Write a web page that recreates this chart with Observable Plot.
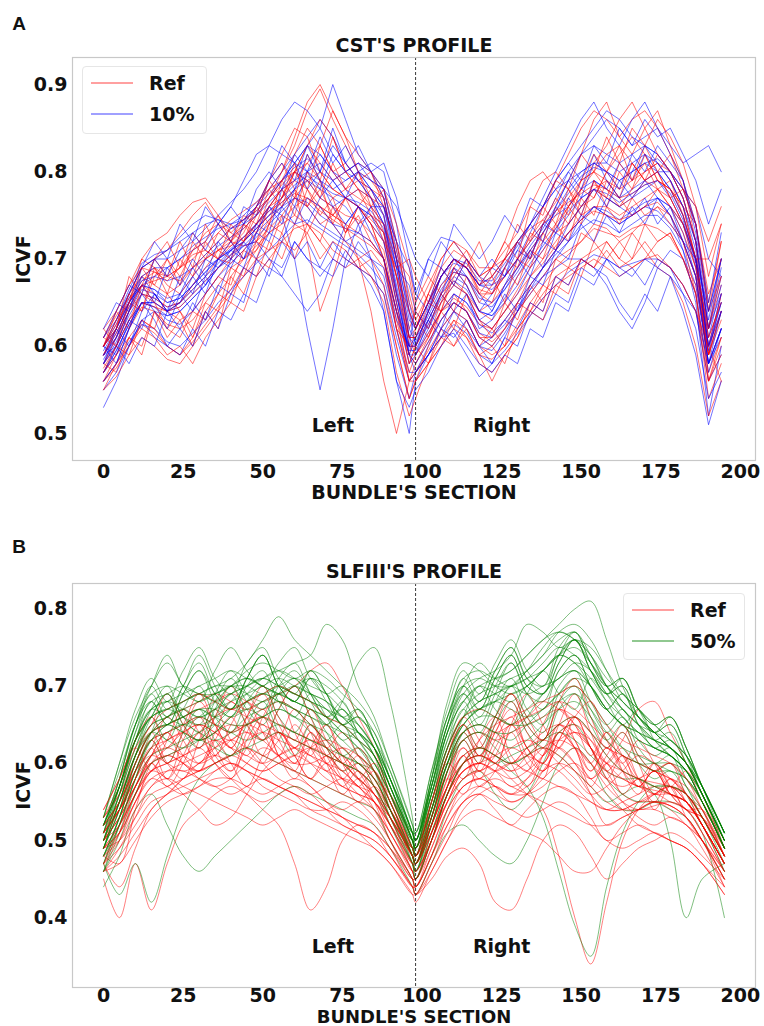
<!DOCTYPE html>
<html><head><meta charset="utf-8">
<script src="https://cdn.jsdelivr.net/npm/d3@7"></script>
<script src="https://cdn.jsdelivr.net/npm/@observablehq/plot@0.6"></script>
<style>
body{margin:0;background:#fff;}
#wrap{position:relative;width:764px;height:1026px;overflow:hidden;background:#fff;font-family:"DejaVu Sans",sans-serif;}
.t{position:absolute;font-weight:bold;color:#111;white-space:nowrap;text-align:center;}
.panel{position:absolute;left:0;}
.leg{position:absolute;border:1px solid #e6e6e6;border-radius:4px;background:#fff;}
.leg .row{position:absolute;left:0;height:20px;display:flex;align-items:center;}
.leg .sw{display:inline-block;width:42px;height:2px;margin-left:8px;}
.leg .lab{font-weight:bold;font-size:19px;margin-left:16px;color:#111;}
</style></head>
<body><div id="wrap"></div>
<script>
// ---- x positions (bundle sections) of sampled points ----
const sectionsA = [0,4,8,12,16,20,24,28,32,36,40,44,48,52,56,60,64,68,72,76,80,84,88,92,96,
  98,102,106,110,114,118,122,126,130,134,138,142,146,150,154,158,162,166,170,174,178,182,186,190,194];
const sectionsB = [0,5,10,15,20,25,30,35,40,45,50,55,60,65,70,75,80,85,90,97,
  98,103,108,113,118,123,128,133,138,143,148,153,158,163,168,173,178,183,188,195];
const xTicks = [0,25,50,75,100,125,150,175,200];
const yTicksA = [0.5,0.6,0.7,0.8,0.9];
const yTicksB = [0.4,0.5,0.6,0.7,0.8];
const hemiLabels = ["Left","Right"];
const hemiLabelX = [72,125];
const midline = [98];

// ---- CST profiles, ICVF x 1000 (Ref subjects) ----
const cstRef = [
[600,620,650,680,690,680,690,710,730,740,730,745,760,780,800,830,870,895,860,830,800,790,770,700,610, 620,650,680,700,690,660,660,680,700,725,745,765,790,820,860,880,840,820,850,870,830,790,720,620,700],
[560,575,600,625,615,600,590,610,640,660,680,700,720,745,760,780,760,740,750,770,760,740,700,620,560, 570,590,610,630,620,590,585,600,625,650,670,690,705,720,740,735,720,730,745,760,750,720,680,580,620],
[590,620,660,690,700,710,730,750,765,740,720,715,720,735,750,770,790,800,780,770,760,745,730,650,580, 600,640,680,700,690,670,680,700,720,735,745,730,740,760,780,770,760,770,790,800,770,740,700,600,640],
[580,600,630,660,650,640,650,665,680,700,715,730,760,790,810,780,720,640,680,730,760,780,770,700,610, 590,610,640,660,640,610,600,620,650,680,700,720,740,760,780,790,770,750,760,780,790,760,700,590,660],
[610,635,655,670,660,640,630,640,660,680,700,720,735,750,770,800,830,810,790,800,810,800,780,720,640, 620,660,690,710,700,680,690,710,730,760,790,800,780,760,770,800,820,840,820,790,780,760,740,650,720],
[550,565,590,610,600,585,580,600,620,640,660,680,700,710,720,735,740,730,710,700,690,680,660,600,540, 560,580,600,620,610,580,570,590,610,635,655,670,680,690,700,690,680,690,700,705,690,670,640,560,600],
[590,615,645,670,675,680,690,705,710,700,695,710,730,760,780,790,810,830,800,780,770,760,740,680,600, 600,630,660,675,660,630,620,640,665,690,710,735,760,790,800,780,760,780,800,810,790,750,700,600,660],
[600,630,660,680,670,660,670,690,700,710,715,725,740,760,770,790,780,760,750,740,700,640,560,500,560, 580,610,640,650,640,610,610,630,650,670,690,710,730,750,760,760,750,760,770,780,770,740,700,610,650],
[580,610,650,700,720,730,750,765,770,750,720,700,710,740,770,800,830,860,840,800,780,770,760,720,660, 630,660,700,720,700,680,690,720,760,790,800,780,760,780,810,830,860,880,850,820,800,780,740,640,680],
[570,590,620,645,640,625,620,630,650,670,690,700,715,730,745,760,770,760,750,740,730,720,700,640,590, 580,605,630,650,640,615,605,620,640,660,680,700,710,720,735,730,725,735,740,735,725,700,670,590,640],
[620,640,670,700,690,670,660,680,700,710,720,735,750,770,800,840,880,900,870,840,820,800,770,700,620, 640,670,700,720,710,690,690,700,720,740,760,790,820,850,870,860,840,860,870,850,820,790,740,640,720],
[560,580,610,630,620,600,590,605,625,645,665,690,710,730,740,750,740,720,700,690,700,710,690,620,560, 570,595,620,640,630,600,590,600,620,640,660,680,690,700,710,720,700,690,700,720,730,700,660,570,610],
[600,625,650,675,685,680,675,690,705,720,735,745,755,770,785,800,810,790,770,780,790,780,750,680,610, 610,640,670,685,680,660,650,670,690,710,730,750,770,790,800,790,780,790,800,810,800,770,720,620,670],
[590,610,640,660,655,645,650,670,690,710,725,740,760,790,820,850,840,800,780,770,760,740,720,650,580, 600,625,650,670,660,640,630,650,680,700,720,740,760,780,800,820,830,810,790,780,760,730,690,590,640],
[575,600,630,650,645,640,645,660,675,690,705,720,740,755,765,775,770,755,745,735,725,715,700,630,570, 590,615,640,655,645,625,620,640,660,680,695,715,730,745,755,750,745,750,760,765,750,720,680,590,630],
[610,640,670,690,685,675,690,700,715,730,745,755,765,780,790,800,790,770,760,750,745,730,710,640,590, 620,650,680,700,690,665,660,680,700,720,740,755,765,775,785,780,770,775,785,790,780,750,700,610,650],
[620,600,650,640,690,660,700,680,720,700,740,720,760,740,790,770,820,790,840,800,780,760,720,690,700, 680,650,690,670,700,660,680,650,700,690,730,710,760,740,790,760,800,780,820,790,780,760,700,700,740],
[560,590,610,600,640,620,610,640,630,660,650,690,680,720,700,740,730,760,740,720,700,680,650,570,520, 540,580,600,630,610,590,560,590,610,650,640,680,670,700,690,720,700,730,710,690,680,650,600,520,560],
[600,640,620,670,700,680,720,690,740,710,700,740,720,760,780,750,800,770,810,780,800,760,780,740,690, 650,680,660,700,690,720,680,700,740,720,760,740,780,750,790,770,810,790,830,800,820,780,760,720,760],
[580,570,610,590,640,610,630,600,640,620,680,660,700,690,730,700,740,720,760,730,750,720,700,620,600, 600,580,620,600,630,600,620,600,650,640,670,660,690,680,720,700,720,700,740,720,730,700,660,560,590],
[590,620,660,640,680,700,670,720,700,730,720,750,740,780,760,800,780,830,800,810,790,800,760,710,650, 630,610,650,690,670,640,650,690,670,710,700,740,720,770,750,790,770,810,790,820,800,770,720,560,610],
[610,600,640,670,650,620,640,610,650,640,690,680,720,710,750,740,780,750,770,730,760,740,700,640,560, 560,600,640,620,660,630,610,650,630,670,650,700,690,730,720,760,740,770,750,760,740,720,660,540,580],
[570,600,590,630,620,660,640,620,660,680,670,710,700,740,730,770,760,780,750,770,740,750,740,700,680, 640,620,660,640,680,650,670,700,690,730,720,760,740,780,770,800,780,810,790,800,770,780,740,660,700],
[600,620,680,660,700,720,690,730,710,700,720,740,730,770,790,820,850,830,870,840,800,770,730,660,610, 610,650,640,680,700,670,690,720,700,760,750,790,780,820,800,840,810,850,830,860,840,810,760,680,740],
[550,580,600,620,610,590,600,580,610,630,650,640,680,700,720,710,730,700,720,710,690,700,670,600,540, 560,580,610,600,620,590,600,580,620,640,630,670,660,700,690,710,690,700,720,700,690,670,640,600,560],
[600,630,650,690,670,700,680,710,720,750,730,720,750,790,770,810,760,790,740,770,780,750,730,680,640, 620,660,640,690,710,680,660,690,720,700,740,770,750,790,820,800,830,790,810,780,760,740,690,620,680]
];
// ---- CST profiles, ICVF x 1000 (10% subjects) ----
const cst10 = [
[570,590,620,650,650,640,650,670,690,700,710,720,740,760,750,700,620,550,620,700,740,760,740,680,600, 590,620,650,670,660,630,620,640,660,690,710,730,750,770,780,770,760,770,780,790,770,740,690,590,640],
[580,610,640,670,680,690,700,710,720,740,760,790,820,830,820,810,800,790,780,790,800,790,780,720,640, 600,640,680,700,690,670,680,700,720,740,760,780,800,820,830,820,810,820,830,820,800,770,720,620,690],
[530,560,600,630,640,635,640,655,670,690,700,715,730,745,760,780,800,820,800,780,760,740,720,660,590, 570,600,630,650,640,610,600,620,640,660,680,700,720,740,760,750,740,750,760,770,760,730,680,580,620],
[600,620,650,670,665,655,660,680,700,715,725,735,750,770,790,810,830,850,820,800,790,780,760,690,610, 610,640,670,690,680,650,645,665,690,715,735,760,790,820,840,860,850,830,840,850,830,810,820,830,800],
[590,615,645,670,665,650,655,670,685,700,710,725,740,760,780,800,790,770,760,770,780,770,740,670,600, 650,700,725,720,700,680,670,680,700,720,740,750,760,780,790,780,770,780,790,800,780,750,700,600,650],
[570,595,625,650,645,630,625,640,660,680,695,710,725,740,755,770,760,740,730,720,710,700,680,620,570, 570,590,610,615,590,565,580,610,640,670,690,710,730,745,760,750,740,750,760,755,740,720,680,580,610],
[590,620,655,680,690,690,700,715,725,735,740,750,765,780,800,820,840,860,840,810,790,770,750,690,610, 600,630,660,680,670,640,635,655,680,705,730,755,780,800,810,800,790,800,810,800,780,750,700,600,660],
[580,605,635,660,655,645,650,665,680,695,710,720,735,750,765,780,790,780,770,760,740,700,640,560,500, 560,590,620,640,630,600,595,615,640,665,690,710,730,745,760,755,745,755,765,770,750,710,650,520,600],
[600,625,660,690,700,710,720,730,740,745,740,745,755,770,790,810,830,820,800,790,800,810,800,740,650, 620,650,680,695,690,670,665,680,700,730,760,790,810,830,850,870,860,840,830,820,800,780,740,640,700],
[560,580,605,625,620,605,600,615,630,650,665,680,695,710,725,740,745,735,725,715,705,690,670,610,560, 570,590,610,625,615,590,580,595,615,635,655,670,685,695,705,700,690,695,700,700,690,670,640,560,590],
[610,630,660,690,700,700,710,720,735,750,765,780,800,830,860,880,870,850,900,860,820,800,780,710,630, 620,650,680,700,690,670,670,690,710,740,770,800,830,860,880,850,830,860,880,850,820,790,730,630,700],
[580,600,630,650,650,640,645,660,675,690,705,720,735,750,760,770,765,750,740,735,730,720,700,640,580, 590,615,640,660,650,625,615,630,650,670,690,705,720,735,745,740,730,740,750,750,735,710,670,580,620],
[595,620,650,675,680,675,680,690,705,720,735,745,760,775,790,805,815,800,790,800,810,800,770,700,620, 605,635,665,685,680,655,650,665,685,710,730,755,775,795,805,800,790,800,810,815,800,770,720,620,680],
[570,595,625,650,645,635,640,655,670,690,705,715,720,700,680,660,640,660,700,740,760,750,720,650,590, 580,605,630,650,640,615,610,625,645,665,680,690,700,700,690,670,640,620,650,690,710,700,660,570,620],
[600,630,665,695,705,710,725,740,750,745,735,740,750,765,780,790,800,810,790,770,760,750,730,660,590, 610,645,680,700,695,675,675,695,715,740,760,780,790,800,810,810,800,810,820,810,790,760,710,610,670],
[585,610,640,665,660,650,655,670,685,700,712,725,740,755,770,785,795,785,775,770,765,755,735,665,595, 595,625,655,675,665,640,635,650,670,695,715,735,755,770,780,775,765,775,785,790,775,745,695,595,650],
[600,590,630,620,660,640,680,660,700,690,710,700,740,730,780,760,800,780,820,800,810,790,780,760,720, 700,680,720,700,690,670,690,680,710,700,740,730,770,750,790,780,810,790,820,800,800,780,760,700,680],
[560,580,620,650,630,600,590,620,600,640,630,660,650,690,680,720,700,690,720,700,690,670,640,560,530, 550,570,600,620,600,580,570,590,580,620,610,650,640,680,670,700,690,680,700,690,680,640,590,510,560],
[620,650,640,690,720,700,740,720,760,740,720,760,750,790,810,790,830,800,850,810,830,800,810,770,700, 660,700,690,740,720,700,720,750,730,770,760,790,810,790,830,810,850,830,860,840,850,820,790,740,780],
[570,600,580,610,600,640,620,650,630,670,660,690,680,700,690,720,700,680,700,690,720,700,690,630,600, 610,630,610,640,620,600,610,630,620,650,640,680,670,700,690,680,650,630,660,640,680,660,640,580,620],
[590,610,650,670,650,690,670,700,680,720,700,740,760,790,830,810,780,800,830,810,790,770,740,690,670, 640,620,660,690,670,640,660,690,720,700,740,770,800,780,820,790,770,800,830,810,790,760,720,620,660],
[580,620,600,640,660,640,650,680,660,700,690,720,700,730,720,760,740,770,790,770,800,780,750,660,590, 590,630,660,640,660,620,630,660,640,680,670,710,700,740,720,750,730,760,740,770,760,720,700,640,700],
[600,580,620,660,640,620,660,640,680,660,700,690,730,720,760,740,770,760,740,720,730,760,760,720,690, 660,640,680,700,680,660,640,670,690,710,690,730,720,750,740,770,760,750,770,740,760,740,700,600,640],
[550,570,600,630,610,600,620,600,640,620,660,650,700,680,720,700,720,690,680,710,690,680,660,590,540, 570,590,620,610,630,600,580,610,600,640,630,660,650,690,680,700,680,690,670,700,690,660,620,540,570],
[610,640,670,660,700,680,710,730,710,740,760,740,780,800,780,820,800,840,810,830,800,780,760,700,640, 620,650,690,670,700,680,700,680,720,740,720,760,790,770,810,800,780,820,800,830,810,790,740,650,730],
[590,600,640,680,660,640,660,690,670,700,720,700,730,760,740,780,820,790,760,740,760,730,700,640,600, 600,640,620,660,650,630,640,670,700,680,720,710,740,760,780,760,790,770,790,770,750,720,680,580,640]
];
// ---- SLFIII profiles, ICVF x 1000 (Ref subjects) ----
const slfRef = [
[480,470,540,600,620,640,650,640,630,650,660,640,630,620,610,600,590,570,530,470, 460,500,560,600,620,610,600,620,640,650,640,620,600,590,580,575,570,560,530,480],
[450,400,470,410,470,520,540,560,570,560,550,560,570,560,540,520,510,500,480,440, 430,470,520,550,560,540,520,540,560,570,560,530,500,510,520,510,500,490,470,440],
[500,520,560,590,600,610,620,600,580,560,540,520,470,410,440,500,520,510,490,450, 450,500,560,590,600,590,570,580,600,620,600,560,520,530,540,550,540,520,500,460],
[520,540,580,620,630,640,630,640,650,640,630,640,620,610,600,590,570,550,520,470, 470,520,570,600,610,600,580,560,540,480,400,340,420,500,540,560,570,560,530,480],
[490,510,550,580,590,590,580,570,560,570,580,570,560,550,540,530,520,510,490,450, 430,450,480,490,470,420,410,450,500,520,510,480,450,470,490,500,510,500,480,450],
[510,540,590,630,640,650,660,650,640,650,660,650,640,630,610,600,580,560,530,480, 470,520,580,610,620,610,600,620,630,620,600,580,600,630,670,680,640,600,560,490],
[520,550,600,640,660,670,680,690,680,670,680,690,700,720,730,700,660,620,560,490, 480,530,590,630,640,630,640,650,660,670,660,640,620,610,600,590,580,570,540,490],
[470,520,560,600,570,600,640,600,580,630,660,610,590,640,600,560,580,550,500,450, 450,510,560,610,570,590,640,600,580,640,620,570,600,560,580,540,570,530,500,460],
[530,560,600,640,650,660,670,680,690,680,670,680,670,650,630,610,590,570,540,490, 490,540,600,640,650,640,650,660,670,680,670,650,630,610,600,590,580,560,530,480],
[460,480,510,540,560,570,580,590,600,590,580,570,560,550,540,530,510,490,470,430, 420,460,500,540,560,570,560,560,570,590,600,580,560,540,520,510,500,490,470,430],
[500,530,570,610,620,610,600,610,630,640,630,610,600,620,630,620,600,580,540,480, 470,510,560,600,610,600,590,610,630,650,660,640,610,590,580,570,560,550,520,470],
[480,510,560,590,580,560,540,520,530,560,590,610,620,610,590,570,560,550,510,460, 450,490,540,570,580,570,560,580,610,640,650,630,590,560,550,560,570,550,520,460],
[520,550,600,640,600,580,630,670,630,610,660,690,640,610,650,600,570,590,540,490, 490,540,600,580,630,660,610,590,650,680,630,600,640,590,560,600,570,540,530,490],
[490,500,530,560,570,580,590,600,610,620,600,580,570,560,570,580,570,540,500,450, 440,480,530,560,570,560,550,560,580,600,620,600,570,550,540,545,550,540,510,460],
[510,540,590,620,660,630,600,640,680,650,610,630,670,640,600,620,590,560,540,480, 470,520,580,630,600,640,670,620,600,650,690,640,600,620,580,550,580,560,520,470],
[470,440,490,540,560,580,590,600,610,600,590,600,610,600,590,580,560,540,510,460, 460,500,550,590,600,590,600,610,620,610,590,560,540,540,550,560,550,540,510,460],
[500,530,570,610,640,600,590,630,600,570,610,640,610,580,610,580,550,570,540,490, 480,530,590,620,590,610,650,620,590,630,660,620,580,610,570,590,560,540,540,490],
[530,570,620,650,690,650,620,660,700,660,630,670,700,660,620,640,610,580,560,500, 490,550,610,660,630,600,650,690,650,620,660,680,630,600,630,600,570,590,550,500],
[460,490,530,570,580,570,560,550,540,530,520,530,540,530,520,510,500,490,470,430, 430,470,510,550,560,550,540,530,540,550,540,520,500,490,500,510,500,490,470,430],
[510,540,580,610,630,640,650,640,620,600,590,600,610,620,610,590,570,550,520,480, 470,510,550,580,590,600,620,630,620,600,580,560,570,590,610,600,580,560,530,480],
[490,520,570,600,580,630,660,620,590,620,650,610,580,620,650,610,580,600,550,490, 480,530,580,560,600,640,600,570,610,650,620,580,610,640,600,560,580,550,520,470],
[540,580,620,590,630,670,640,610,650,680,640,610,650,620,590,610,580,550,530,480, 470,540,610,650,610,640,680,640,610,650,630,590,620,600,570,590,560,540,530,480],
[470,490,520,550,560,580,600,610,600,590,580,570,560,540,530,520,510,500,480,440, 440,480,520,550,570,580,570,560,550,540,530,520,520,530,540,550,545,530,500,450],
[500,530,570,600,610,620,640,660,670,660,650,640,630,620,600,580,570,560,530,480, 470,510,560,600,630,650,660,670,680,670,650,620,590,580,570,565,560,550,520,470],
[470,510,560,590,610,600,590,600,610,630,640,630,620,600,580,570,560,550,520,460, 450,500,560,590,600,610,620,610,600,590,570,550,540,550,560,570,560,550,520,470],
[530,560,610,650,670,680,690,680,670,680,690,700,690,680,660,650,630,610,560,490, 480,550,620,660,670,660,650,660,680,690,700,680,650,630,620,610,600,580,550,490],
[490,520,560,600,610,600,580,570,580,600,620,610,590,570,550,540,550,540,510,460, 450,500,550,580,590,570,550,560,590,620,640,620,580,550,530,520,530,520,500,450],
[510,550,590,630,600,640,680,650,620,660,700,660,630,670,630,600,620,590,550,480, 470,530,590,640,610,650,690,660,630,680,710,660,620,650,610,590,600,560,540,480],
[460,470,500,530,550,560,570,580,580,570,560,570,580,570,550,530,520,510,480,440, 430,460,500,530,540,530,520,510,500,480,460,460,490,520,540,550,545,530,500,440],
[500,540,580,620,580,610,650,610,590,640,670,630,600,640,610,580,600,570,530,470, 470,520,570,620,590,630,660,620,600,640,620,590,620,590,570,590,560,550,520,470],
[520,550,590,610,600,590,600,620,640,650,640,620,600,600,610,620,610,590,550,490, 480,520,570,600,610,600,590,600,620,630,620,600,580,570,580,590,600,580,540,480],
[480,500,540,570,590,600,610,620,630,620,610,600,590,580,570,560,550,530,500,450, 440,480,530,570,580,590,600,590,580,570,560,550,540,540,550,550,545,530,500,450],
[540,580,630,660,620,650,690,650,620,660,690,650,620,650,620,590,610,580,540,480, 480,550,610,650,620,660,690,650,630,670,650,610,640,610,580,600,570,560,530,480],
[490,510,550,590,600,610,620,630,620,610,600,610,620,630,620,600,580,560,520,470, 460,500,550,590,600,590,580,590,610,630,640,630,600,580,570,560,560,550,520,470],
[510,540,570,610,640,610,590,630,660,620,600,640,610,580,600,570,590,560,530,480, 470,520,570,610,580,620,650,610,590,630,660,620,590,610,580,560,570,550,520,470],
[470,500,550,580,570,560,570,590,600,590,570,560,550,540,540,550,540,520,490,440, 440,490,540,570,580,570,560,570,590,600,590,570,550,540,540,540,530,520,490,440]
];
// ---- SLFIII profiles, ICVF x 1000 (50% subjects) ----
const slf50 = [
[500,550,610,650,660,680,690,700,710,730,760,790,760,740,720,700,680,650,600,520, 500,560,630,670,690,700,710,720,740,760,770,740,700,680,660,640,620,600,560,500],
[510,560,620,660,670,680,690,680,690,700,710,720,730,740,780,760,700,660,600,520, 510,570,640,680,700,710,720,740,760,780,800,810,760,700,660,640,620,600,560,500],
[490,540,600,640,650,660,670,660,670,680,690,680,670,660,650,680,730,750,680,530, 500,560,620,660,680,690,700,710,720,740,730,710,680,660,640,630,620,600,560,500],
[520,580,650,700,740,700,690,680,670,680,690,700,690,680,660,640,620,600,560,500, 500,570,650,700,730,710,700,720,740,770,780,760,720,680,660,640,620,600,570,510],
[480,530,590,630,640,650,660,650,640,650,660,670,660,640,620,600,580,560,520,470, 460,510,570,610,620,610,590,570,530,460,390,350,440,510,550,570,570,560,530,480],
[490,540,600,640,650,640,630,640,660,670,660,650,640,630,620,600,590,570,530,480, 470,530,600,630,640,620,600,610,620,610,590,570,550,560,570,560,500,400,450,470],
[530,590,650,700,670,700,740,700,670,710,740,700,680,720,690,650,670,630,580,510, 500,580,650,710,680,720,750,710,690,740,760,720,690,710,670,640,660,620,570,500],
[460,520,580,630,600,640,670,630,610,650,680,640,610,650,620,590,600,570,520,460, 450,510,570,630,600,650,680,640,620,670,690,650,620,640,600,580,590,560,520,470],
[500,560,630,670,680,690,700,710,720,710,700,690,680,670,660,640,620,590,550,490, 490,580,680,730,720,700,690,700,720,740,760,740,700,670,650,630,610,590,550,490],
[470,530,590,640,680,640,620,660,690,650,630,670,700,660,630,650,610,590,540,480, 460,520,590,640,610,660,700,660,640,690,710,670,640,660,620,600,610,570,540,480],
[520,570,630,670,680,670,660,670,680,690,700,710,700,690,680,660,640,610,570,500, 490,550,620,660,670,680,700,720,750,770,760,730,700,680,660,640,620,600,570,510],
[440,480,540,560,520,480,460,480,500,520,540,560,570,560,550,540,530,520,490,440, 430,470,510,520,500,480,470,500,550,600,620,600,560,540,540,550,550,540,510,400],
[510,570,630,680,650,690,720,690,670,710,740,700,680,710,680,650,660,630,580,510, 500,570,640,690,670,710,740,700,690,730,760,720,690,700,660,640,650,610,570,510],
[490,550,610,660,630,670,700,660,640,680,700,660,640,670,640,610,620,590,530,470, 460,530,600,650,620,660,690,650,630,680,700,660,630,650,610,590,600,570,530,480],
[500,560,620,670,700,660,650,690,720,690,670,710,730,690,660,680,640,620,580,510, 490,560,630,680,650,690,730,690,670,720,740,700,670,690,650,620,630,600,560,500],
[470,430,470,420,480,540,580,600,610,620,610,600,590,580,570,560,550,540,500,450, 440,480,540,580,590,560,540,560,600,640,650,620,580,560,550,550,540,530,500,450],
[520,570,640,680,690,700,690,690,700,710,700,690,680,670,660,650,630,600,560,500, 490,560,640,690,710,720,740,780,770,750,760,750,720,690,670,650,630,610,570,510],
[480,520,580,630,650,660,670,670,660,670,680,690,680,670,650,630,610,590,550,480, 470,530,600,650,670,680,670,660,670,690,710,700,670,650,630,620,610,590,550,490],
[510,570,630,660,690,650,630,670,700,670,650,690,710,680,650,670,630,600,560,500, 480,550,620,670,640,680,710,670,650,700,720,680,650,670,630,610,620,580,550,490],
[530,600,670,710,680,720,750,710,690,730,750,710,690,720,690,660,670,630,580,510, 510,590,670,720,690,730,760,720,700,750,770,730,700,710,670,650,660,620,570,510],
[460,510,570,610,620,630,640,650,640,630,640,650,640,630,620,610,600,580,540,470, 450,500,560,600,610,600,610,620,630,640,630,610,590,580,580,570,560,550,520,460],
[500,550,610,640,630,620,630,650,670,690,710,720,710,690,670,650,640,620,580,510, 490,540,600,640,650,640,630,650,670,690,700,680,650,620,600,600,600,590,560,500],
[490,550,610,660,690,660,640,680,710,680,660,700,720,690,660,670,640,610,540,480, 470,540,610,660,700,670,650,690,720,690,670,710,680,650,670,630,610,590,550,490],
[520,570,630,660,670,660,650,660,680,700,710,700,690,680,670,660,650,620,570,500, 480,540,610,650,670,680,690,700,720,740,730,700,670,650,640,630,620,600,560,500],
[500,570,640,690,660,700,730,690,670,710,740,700,680,710,690,650,660,630,590,510, 500,580,660,700,670,710,740,700,690,730,760,720,690,700,660,640,650,610,560,500],
[480,530,600,640,660,670,660,670,690,700,710,700,690,680,670,650,630,610,560,490, 480,540,610,650,670,660,650,670,690,710,720,700,670,650,640,620,610,590,560,490],
[520,580,650,690,700,690,680,690,700,720,730,720,710,720,710,690,670,640,590,510, 500,580,660,710,720,710,720,740,760,770,760,740,710,690,670,650,630,610,570,510],
[470,520,580,620,640,650,640,630,640,660,670,680,670,650,630,610,600,590,550,480, 460,520,590,630,640,630,620,630,650,670,680,660,630,610,600,590,590,580,550,490],
[510,580,650,680,650,690,720,680,660,700,720,680,660,690,660,630,640,610,570,500, 490,570,650,690,660,700,730,690,680,720,740,700,670,690,650,630,640,600,560,500],
[490,540,610,650,660,670,680,690,700,690,680,690,700,690,680,660,640,620,570,500, 480,550,620,660,680,690,700,690,700,710,730,720,690,660,640,620,610,590,550,490],
[530,600,660,700,730,700,680,720,750,720,700,730,750,710,690,700,660,640,580,510, 510,590,660,700,680,720,750,710,700,740,770,730,700,710,670,650,660,620,570,510],
[460,500,560,600,610,620,630,620,610,620,630,640,630,620,610,600,590,570,530,470, 450,500,560,600,620,610,600,610,630,650,660,640,610,590,580,570,570,560,530,470],
[500,560,630,670,660,650,660,680,700,710,700,690,700,710,700,680,650,620,570,500, 490,560,640,680,700,690,680,700,720,740,750,730,700,670,650,640,630,610,570,510],
[480,530,590,630,650,660,670,660,650,650,660,670,660,650,640,620,600,580,540,480, 470,520,590,640,660,660,650,650,660,680,690,670,640,620,610,600,590,580,550,490],
[520,570,630,660,670,680,690,700,700,700,690,700,710,700,690,670,650,620,570,500, 500,570,650,700,710,700,700,710,730,750,740,720,690,670,650,630,620,600,560,500],
[490,550,610,640,650,640,630,640,660,680,690,680,670,660,650,640,630,610,560,490, 470,530,600,640,650,640,640,660,690,710,720,700,670,650,630,620,610,590,550,490]
];

// ---- checks ----
function check(name, arr, n){ arr.forEach((r,i)=>{ if(r.length!==n) throw new Error(name+"["+i+"] has "+r.length+" values, expected "+n); }); }
check("cstRef",cstRef,sectionsA.length); check("cst10",cst10,sectionsA.length);
check("slfRef",slfRef,sectionsB.length); check("slf50",slf50,sectionsB.length);

function rows(sections, groups){
  const out=[]; const n=Math.max(...groups.map(g=>g.data.length));
  for(let i=0;i<n;i++) for(const g of groups) if(g.data[i])
    g.data[i].forEach((v,j)=>out.push({x:sections[j], y:v/1000, id:g.name+"-"+i, c:g.color}));
  return out;
}
const dataA = rows(sectionsA,[{name:"ref",color:"#ff0000",data:cstRef},{name:"p10",color:"#0000ff",data:cst10}]);
const dataB = rows(sectionsB,[{name:"ref",color:"#ff0000",data:slfRef},{name:"p50",color:"#008000",data:slf50}]);

const wrap = document.getElementById("wrap");
function addText(txt, cx, cy, size, opts={}){
  const d=document.createElement("div"); d.className="t"; d.textContent=txt;
  d.style.fontSize=size+"px"; d.style.lineHeight=size+"px";
  d.style.fontFamily = opts.family || '"DejaVu Sans",sans-serif';
  d.style.left=(cx-200)+"px"; d.style.width="400px"; d.style.top=(cy-size/2)+"px";
  if(opts.rotate){ d.style.transform="rotate(-90deg)"; }
  wrap.appendChild(d);
}
function addLegend(x,y,w,h,items){
  const b=document.createElement("div"); b.className="leg";
  b.style.left=x+"px"; b.style.top=y+"px"; b.style.width=w+"px"; b.style.height=h+"px";
  items.forEach((it,i)=>{
    const r=document.createElement("div"); r.className="row"; r.style.top=(6+i*30.5)+"px";
    const s=document.createElement("span"); s.className="sw"; s.style.background=it.color;
    const l=document.createElement("span"); l.className="lab"; l.textContent=it.label;
    r.appendChild(s); r.appendChild(l); b.appendChild(r);
  });
  wrap.appendChild(b);
}

function panel(data, yDomain, yTicks, labelY, top, height, mt, mb, pad, curve, opacity){
  const p = Plot.plot({
    width:764, height:height, marginLeft:72, marginRight:9, marginTop:mt, marginBottom:mb,
    style:{fontFamily:"DejaVu Sans", fontSize:"19px", fontWeight:"bold", color:"#111", background:"transparent", overflow:"visible"},
    x:{domain:[-9.75,204.75]},
    y:{domain:yDomain},
    color:{type:"identity"},
    marks:[
      Plot.line(data,{x:"x",y:"y",z:"id",stroke:"c",strokeWidth:1,strokeOpacity:opacity,curve:curve}),
      Plot.ruleX(midline,{stroke:"#222",strokeWidth:0.9,strokeDasharray:"3,2"}),
      Plot.text(hemiLabels,{x:(d,i)=>hemiLabelX[i], y:()=>labelY, text:d=>d, fontSize:19, fontWeight:"bold", fill:"#111"}),
      Plot.frame({stroke:"#c8c8c8", strokeWidth:1.2}),
      Plot.axisY({ticks:yTicks, tickSize:0, tickPadding:5, tickFormat:d=>d.toFixed(1), label:null, fontSize:19}),
      Plot.axisX({ticks:xTicks, tickSize:0, tickPadding:pad, tickFormat:d=>String(d), label:null, fontSize:19})
    ]
  });
  p.classList.add("panel"); p.style.top=top+"px";
  wrap.appendChild(p);
}

// Panel A
panel(dataA,[0.469,0.931],yTicksA,0.509,0,526,57,66,4,"linear",0.55);
// Panel B
panel(dataB,[0.3095,0.833],yTicksB,0.362,526,500,57,39,1,"catmull-rom",0.5);

addText("A",19,23,19,{family:'"Liberation Sans",Arial,sans-serif'});
addText("CST'S PROFILE",414,45,19);
addText("ICVF",23,259,19,{rotate:true});
addText("BUNDLE'S SECTION",414,492,19);
addLegend(82,66,123,66,[{label:"Ref",color:"#ffa0a0"},{label:"10%",color:"#a0a0ff"}]);

addText("B",19,546,19,{family:'"Liberation Sans",Arial,sans-serif'});
addText("SLFIII'S PROFILE",414,571,19);
addText("ICVF",23,785,19,{rotate:true});
addText("BUNDLE'S SECTION",414,1017,18);
addLegend(623,593,120,65,[{label:"Ref",color:"#ffa0a0"},{label:"50%",color:"#90c890"}]);
</script>
</body></html>
